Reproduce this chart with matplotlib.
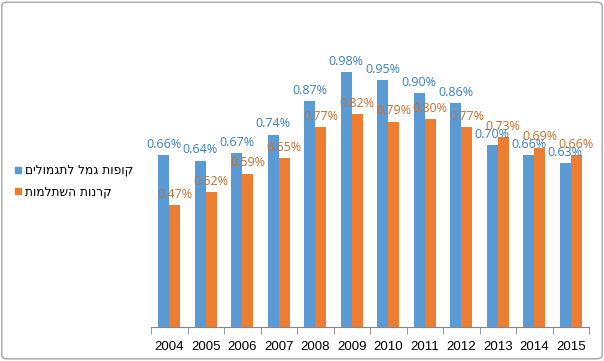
import numpy as np
import matplotlib.pyplot as plt
from matplotlib.lines import Line2D
from matplotlib.patches import FancyBboxPatch

years = ['2004', '2005', '2006', '2007', '2008', '2009', '2010', '2011', '2012', '2013', '2014', '2015']
gemel = [0.66, 0.64, 0.67, 0.74, 0.87, 0.98, 0.95, 0.90, 0.86, 0.70, 0.66, 0.63]
hishtalmut = [0.47, 0.52, 0.59, 0.65, 0.77, 0.82, 0.79, 0.80, 0.77, 0.73, 0.69, 0.66]
names = ['קופות גמל לתגמולים', 'קרנות השתלמות']

blue = '#5B9BD5'
orange = '#ED7D31'
blue_txt = '#3A80C2'
orange_txt = '#C8702F'

fig = plt.figure(figsize=(6.04, 3.61), dpi=100)
ax = fig.add_axes([151 / 604, 1 - 327 / 361, 438 / 604, 312 / 361])

x = np.arange(len(years))
w = 0.3
b1 = ax.bar(x - w / 2, gemel, w, color=blue)
b2 = ax.bar(x + w / 2, hishtalmut, w, color=orange)

for rect, v in zip(b1, gemel):
    ax.annotate('%.2f%%' % v, (rect.get_x() + rect.get_width() / 2, v), xytext=(0, 3),
                textcoords='offset points', ha='center', va='bottom',
                color=blue_txt, fontsize=9, family='Open Sans')
for rect, v in zip(b2, hishtalmut):
    ax.annotate('%.2f%%' % v, (rect.get_x() + rect.get_width() / 2, v), xytext=(0, 3),
                textcoords='offset points', ha='center', va='bottom',
                color=orange_txt, fontsize=9, family='Open Sans')

ax.set_xlim(-0.5, len(years) - 0.5)
ax.set_ylim(0, 1.2)
ax.set_xticks(x)
ax.set_xticklabels(years, fontsize=9.5, family='Liberation Sans')
ax.set_xticks(np.arange(len(years) + 1) - 0.5, minor=True)
ax.tick_params(axis='x', which='major', length=0, pad=10)
ax.tick_params(axis='x', which='minor', length=5, color='#868686', direction='out')
ax.set_yticks([])
for s in ['top', 'right', 'left']:
    ax.spines[s].set_visible(False)
ax.spines['bottom'].set_color('#868686')

# legend, hebrew is reversed because matplotlib draws left to right
handles = [Line2D([], [], ls='', marker='s', markersize=4.5, color=blue),
           Line2D([], [], ls='', marker='s', markersize=4.5, color=orange)]
fig.legend(handles, [n[::-1] for n in names], loc='center left',
           bbox_to_anchor=(14 / 604, 1 - 181 / 361), frameon=False, markerfirst=True,
           prop={'family': 'DejaVu Sans', 'size': 8.7}, handlelength=0.6, handletextpad=0.3,
           labelspacing=0.7, borderpad=0, borderaxespad=0)

border = FancyBboxPatch((0.003, 0.006), 0.994, 0.988, boxstyle='round,pad=0,rounding_size=0.01',
                        transform=fig.transFigure, fill=False, edgecolor='#A6A6A6', lw=1)
fig.patches.append(border)

fig.savefig('out.png', dpi=100)
